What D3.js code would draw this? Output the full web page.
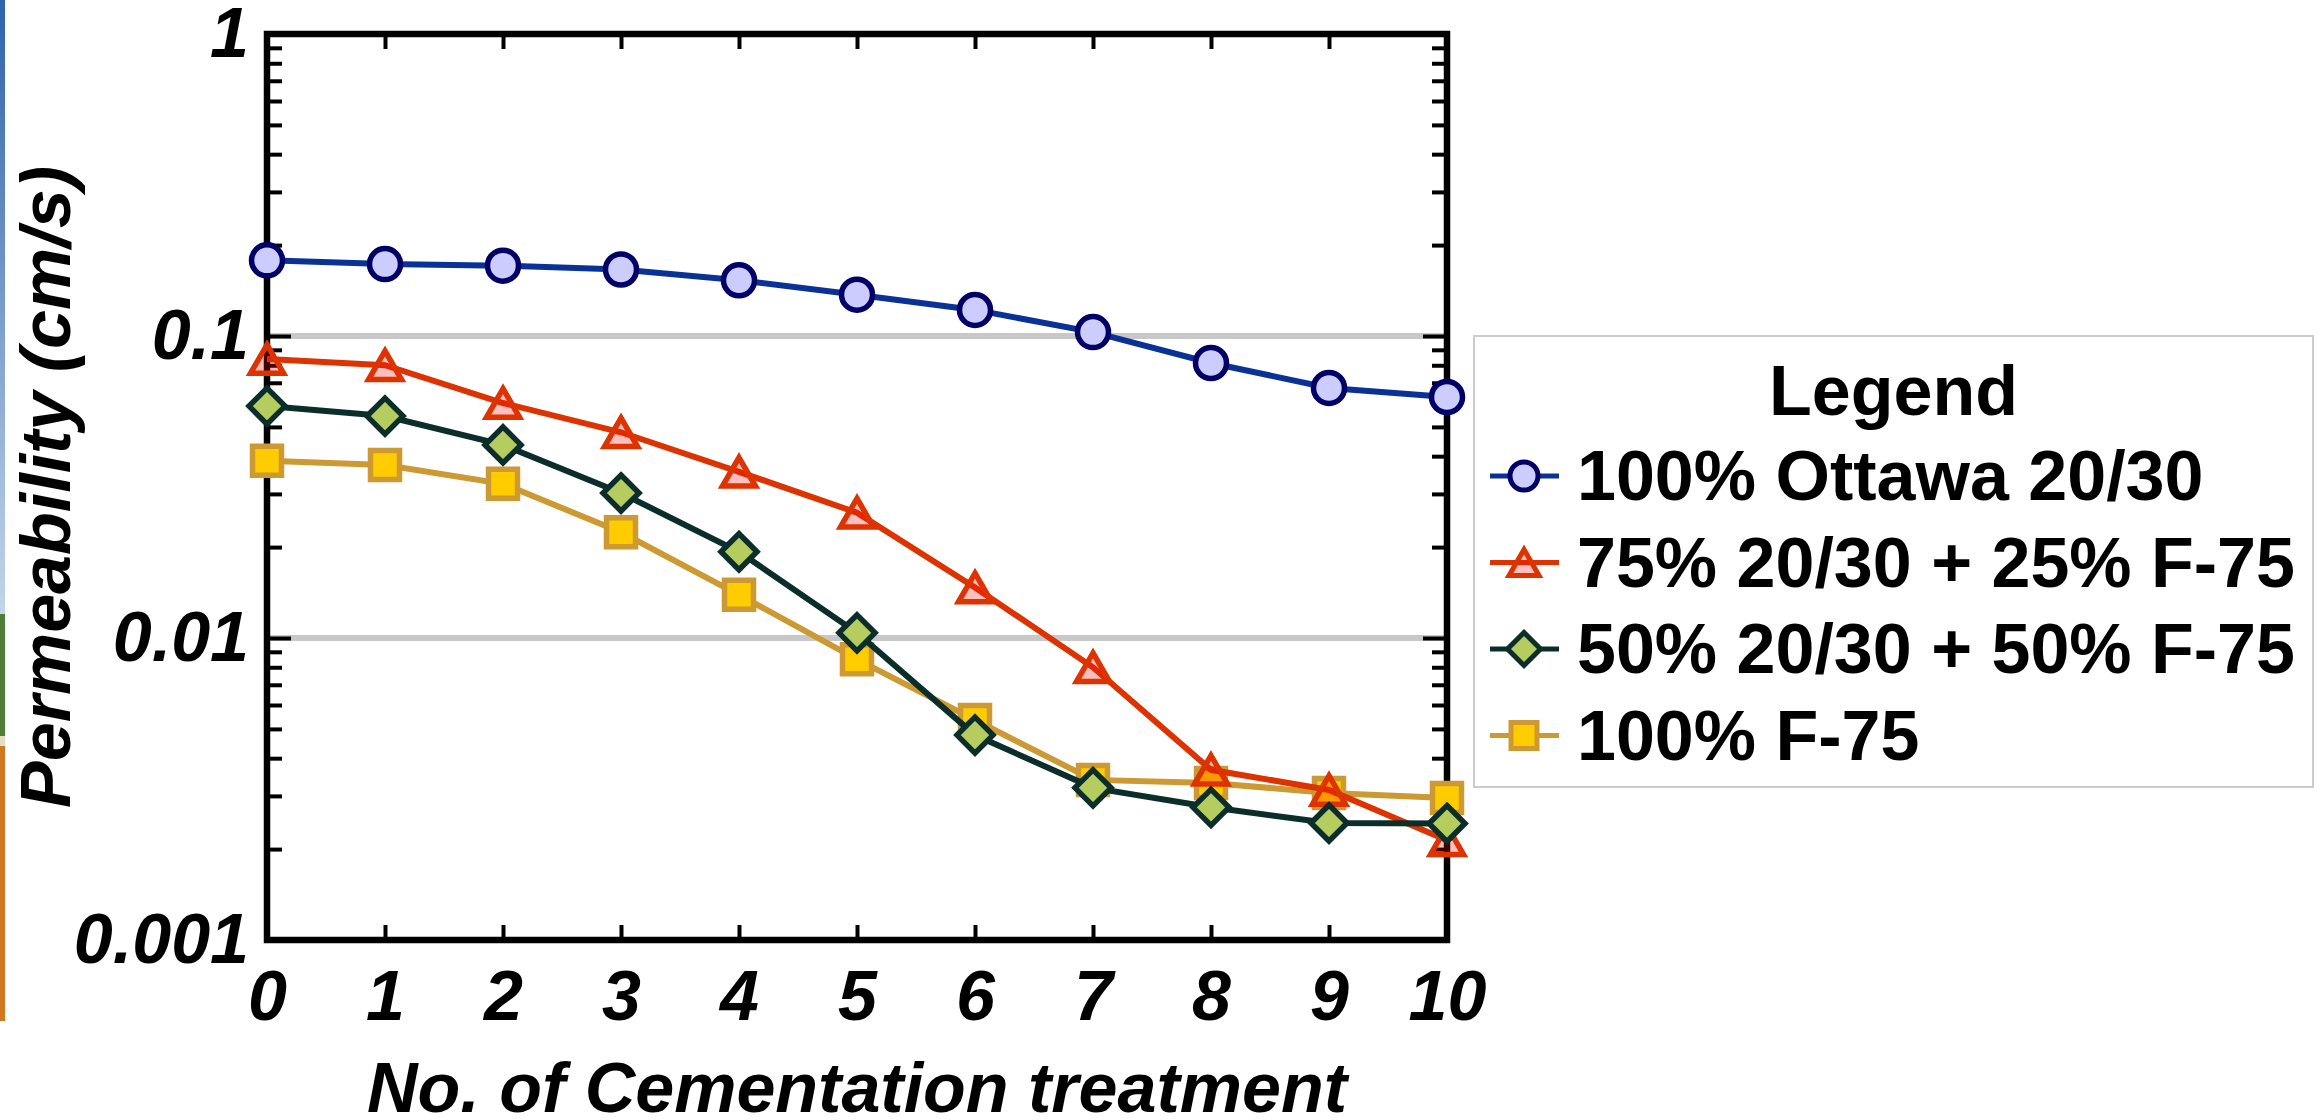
<!DOCTYPE html>
<html>
<head>
<meta charset="utf-8">
<script src="https://cdn.jsdelivr.net/npm/d3@7"></script>
<style>
  body { margin: 0; background: #fff; }
  svg text { font-family: "Liberation Sans", Arial, sans-serif; font-weight: bold; fill: #000; }
  .ital { font-style: italic; }
</style>
</head>
<body>
<div class="chart"></div>
<script>
// Number of cementation treatments (x axis)
const treatments = [0, 1, 2, 3, 4, 5, 6, 7, 8, 9, 10];

// Permeability values in cm/s
const ottawa = [0.178, 0.173, 0.171, 0.166, 0.153, 0.137, 0.122, 0.103, 0.0814, 0.0673, 0.0628];
const mix75 = [0.0839, 0.080, 0.060, 0.048, 0.0355, 0.026, 0.0147, 0.0080, 0.00366, 0.00314, 0.00214];
const mix50 = [0.0586, 0.0543, 0.0436, 0.0302, 0.0193, 0.0104, 0.00477, 0.00319, 0.00275, 0.00244, 0.00243];
const f75 = [0.0386, 0.0374, 0.0324, 0.0224, 0.0139, 0.0085, 0.00535, 0.00339, 0.00331, 0.00307, 0.00295];

const seriesNames = ["100% Ottawa 20/30", "75% 20/30 + 25% F-75", "50% 20/30 + 50% F-75", "100% F-75"];
const yTickValues = [1, 0.1, 0.01, 0.001];
const yTickLabels = ["1", "0.1", "0.01", "0.001"];
const gridValues = [0.1, 0.01];

const width = 2323, height = 1120;
const plot = { left: 267, right: 1447, top: 34, bottom: 940 };

const svg = d3.select(".chart").append("svg")
    .attr("width", width)
    .attr("height", height);

// thin strip of a background photo at the left edge
const defs = svg.append("defs");
const grad = defs.append("linearGradient").attr("id", "sky")
    .attr("x1", 0).attr("y1", 0).attr("x2", 0).attr("y2", 1);
grad.append("stop").attr("offset", "0%").attr("stop-color", "#2f62aa");
grad.append("stop").attr("offset", "100%").attr("stop-color", "#c2d6ec");
svg.append("rect").attr("x", 0).attr("y", 0).attr("width", 5).attr("height", 614).attr("fill", "url(#sky)");
svg.append("rect").attr("x", 0).attr("y", 614).attr("width", 5).attr("height", 122).attr("fill", "#4f7f35");
svg.append("rect").attr("x", 0).attr("y", 736).attr("width", 5).attr("height", 10).attr("fill", "#e9dcc6");
svg.append("rect").attr("x", 0).attr("y", 746).attr("width", 5).attr("height", 275).attr("fill", "#cf7a22");

// scales
const x = d3.scaleLinear().domain([0, 10]).range([plot.left, plot.right]);
const y = d3.scaleLog().domain([0.001, 1]).range([plot.bottom, plot.top]);

// minor ticks of the log axis
const minorTicks = y.ticks().filter(d => yTickValues.indexOf(d) < 0);

// gridlines
svg.append("g").selectAll("line")
    .data(gridValues)
    .enter().append("line")
    .attr("x1", x(0)).attr("x2", x(10))
    .attr("y1", d => y(d)).attr("y2", d => y(d))
    .attr("stroke", "#c8c8c8")
    .attr("stroke-width", 6);

function styleAxis(g, showLabels) {
    g.select(".domain").remove();
    g.selectAll(".tick line").attr("stroke", "#000").attr("stroke-width", 4);
    if (!showLabels) g.selectAll(".tick text").remove();
}

// left axis
svg.append("g")
    .attr("transform", `translate(${plot.left},0)`)
    .call(d3.axisLeft(y).tickValues(minorTicks).tickSize(-15).tickSizeOuter(0).tickFormat(""))
    .call(g => styleAxis(g, false));

svg.append("g")
    .attr("transform", `translate(${plot.left},0)`)
    .call(d3.axisLeft(y).tickValues(yTickValues).tickSize(-24).tickSizeOuter(0).tickPadding(18)
        .tickFormat((d, i) => yTickLabels[i]))
    .call(g => styleAxis(g, true))
    .call(g => g.selectAll(".tick text")
        .attr("class", "ital")
        .attr("font-size", 70)
        .attr("font-family", null));

// right axis
svg.append("g")
    .attr("transform", `translate(${plot.right},0)`)
    .call(d3.axisRight(y).tickValues(minorTicks).tickSize(-15).tickSizeOuter(0).tickFormat(""))
    .call(g => styleAxis(g, false));

svg.append("g")
    .attr("transform", `translate(${plot.right},0)`)
    .call(d3.axisRight(y).tickValues(gridValues).tickSize(-24).tickSizeOuter(0).tickFormat(""))
    .call(g => styleAxis(g, false));

// bottom axis
svg.append("g")
    .attr("transform", `translate(0,${plot.bottom})`)
    .call(d3.axisBottom(x).tickValues(treatments).tickSize(-15).tickSizeOuter(0).tickPadding(30).tickFormat(d3.format("d")))
    .call(g => styleAxis(g, true))
    .call(g => g.selectAll(".tick text")
        .attr("class", "ital")
        .attr("font-size", 70)
        .attr("font-family", null));

// top axis
svg.append("g")
    .attr("transform", `translate(0,${plot.top})`)
    .call(d3.axisTop(x).tickValues(treatments).tickSize(-15).tickSizeOuter(0).tickFormat(""))
    .call(g => styleAxis(g, false));

// frame
svg.append("rect")
    .attr("x", x(0)).attr("y", y(1))
    .attr("width", x(10) - x(0))
    .attr("height", y(0.001) - y(1))
    .attr("fill", "none")
    .attr("stroke", "#000")
    .attr("stroke-width", 6.5);

// marker shapes
function markerPath(shape, s) {
    if (shape === "circle") {
        return d3.symbol().type(d3.symbolCircle).size(Math.PI * s * s)();
    }
    if (shape === "square") {
        return `M${-s},${-s}H${s}V${s}H${-s}Z`;
    }
    if (shape === "diamond") {
        return `M0,${-s}L${s},0L0,${s}L${-s},0Z`;
    }
    // triangle centred on its bounding box
    const h = s * Math.sqrt(3);
    return `M0,${-h / 2}L${s},${h / 2}L${-s},${h / 2}Z`;
}

const series = [
    { name: seriesNames[0], values: ottawa, shape: "circle", size: 15.5, line: "#0a3296", stroke: "#000066", fill: "#ccccff" },
    { name: seriesNames[1], values: mix75, shape: "triangle", size: 16.5, line: "#dd3300", stroke: "#dd3300", fill: "rgba(255,0,0,0.25)" },
    { name: seriesNames[2], values: mix50, shape: "diamond", size: 18, line: "#0c2e2b", stroke: "#0c2e2b", fill: "#b5cc5f" },
    { name: seriesNames[3], values: f75, shape: "square", size: 14.5, line: "#cc9933", stroke: "#cc9933", fill: "#ffcc00" }
];

// draw order so that the overlaps look like the picture
const drawOrder = [0, 3, 1, 2];

const line = d3.line()
    .x(d => x(d.t))
    .y(d => y(d.v));

drawOrder.forEach(function(i) {
    const s = series[i];
    const pts = treatments.map((t, j) => ({ t: t, v: s.values[j] }));

    svg.append("path")
        .datum(pts)
        .attr("fill", "none")
        .attr("stroke", s.line)
        .attr("stroke-width", 6)
        .attr("d", line);

    svg.append("g").selectAll("path")
        .data(pts)
        .enter().append("path")
        .attr("transform", d => `translate(${x(d.t)},${y(d.v)})`)
        .attr("d", markerPath(s.shape, s.size))
        .attr("fill", s.fill)
        .attr("stroke", s.stroke)
        .attr("stroke-width", 5.5);
});

// axis titles
svg.append("text")
    .attr("class", "ital")
    .attr("transform", "rotate(-90)")
    .attr("x", -(plot.top + plot.bottom) / 2)
    .attr("y", 70)
    .attr("text-anchor", "middle")
    .attr("font-size", 70)
    .text("Permeability (cm/s)");

svg.append("text")
    .attr("class", "ital")
    .attr("x", (plot.left + plot.right) / 2)
    .attr("y", 1112)
    .attr("text-anchor", "middle")
    .attr("font-size", 70)
    .text("No. of Cementation treatment");

// legend
const legend = svg.append("g").attr("transform", "translate(1474,336)");
legend.append("rect")
    .attr("width", 839).attr("height", 451)
    .attr("fill", "#fff")
    .attr("stroke", "#cccccc")
    .attr("stroke-width", 2);

legend.append("text")
    .attr("x", 839 / 2)
    .attr("y", 79)
    .attr("text-anchor", "middle")
    .attr("font-size", 70)
    .text("Legend");

const rows = legend.selectAll(".row")
    .data(series)
    .enter().append("g")
    .attr("class", "row")
    .attr("transform", (d, i) => `translate(0,${164 + i * 86.5})`);

rows.append("line")
    .attr("x1", 16).attr("x2", 85)
    .attr("y1", -24).attr("y2", -24)
    .attr("stroke", d => d.line)
    .attr("stroke-width", 5);

rows.append("path")
    .attr("transform", "translate(50,-24)")
    .attr("d", d => markerPath(d.shape, d.size - 1.5))
    .attr("fill", d => d.fill)
    .attr("stroke", d => d.stroke)
    .attr("stroke-width", 5);

rows.append("text")
    .attr("x", 103)
    .attr("y", 0)
    .attr("font-size", 70)
    .text(d => d.name);
</script>
</body>
</html>
